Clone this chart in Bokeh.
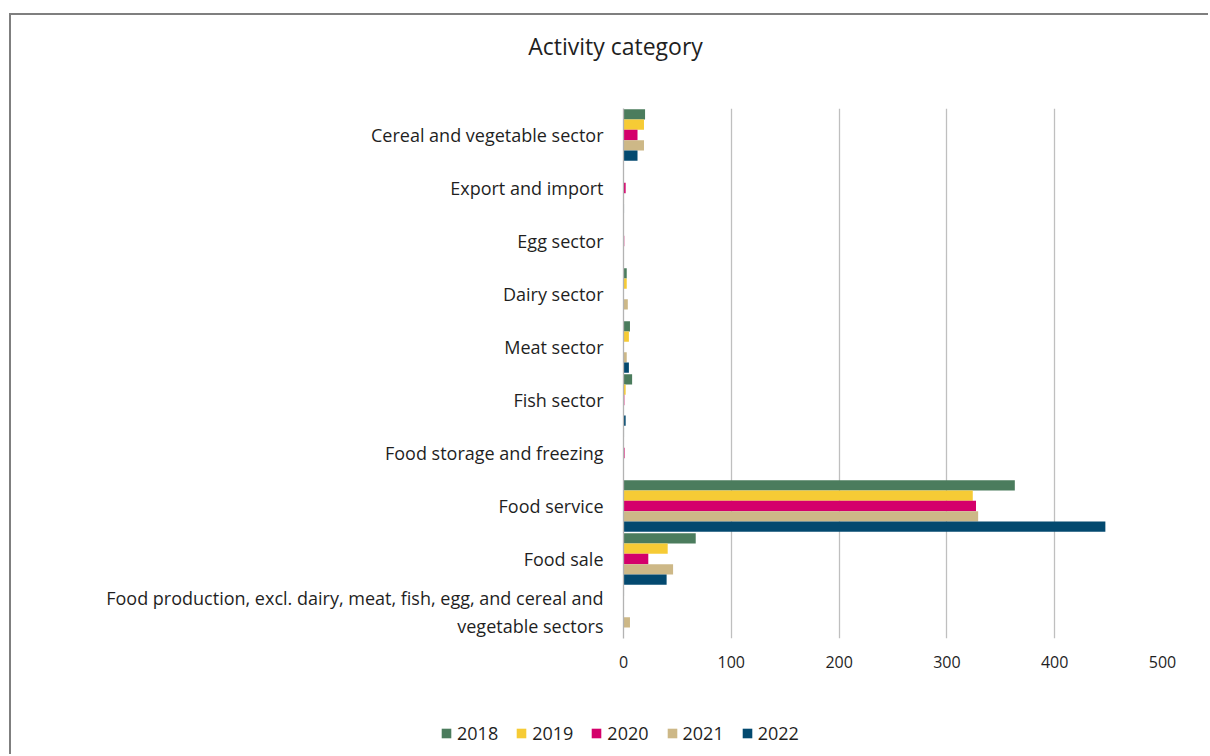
from bokeh.plotting import figure
from bokeh.layouts import column
from bokeh.models import FactorRange, Range1d, Legend, LegendItem, FixedTicker, ColumnDataSource, Label
from bokeh.transform import dodge
from bokeh.embed import file_html
from bokeh.resources import INLINE

categories = [
    "Cereal and vegetable sector",
    "Export and import",
    "Egg sector",
    "Dairy sector",
    "Meat sector",
    "Fish sector",
    "Food storage and freezing",
    "Food service",
    "Food sale",
    "Food production, excl. dairy, meat, fish, egg, and cereal and\nvegetable sectors",
]
years = ["2018", "2019", "2020", "2021", "2022"]
v2018 = [20, 0, 0, 3, 6, 8, 0.5, 363, 67, 0.5]
v2019 = [19, 0, 0, 3, 5, 2, 0, 324, 41, 0]
v2020 = [13, 2, 0.7, 0, 0, 0.8, 1, 327, 23, 0]
v2021 = [19, 0.5, 0, 4, 3, 0, 0, 329, 46, 6]
v2022 = [13, 0.5, 0, 0, 5, 2, 0, 447, 40, 0.3]
x_ticks = [0, 100, 200, 300, 400, 500]
title_text = "Activity category"

colors = ["#4b7c5d", "#f6cb35", "#d4006b", "#cdb887", "#03496f"]
series = [v2018, v2019, v2020, v2021, v2022]

source = ColumnDataSource(dict(cat=categories, **{"v" + y: s for y, s in zip(years, series)}))

FONT = "Open Sans"
TXT = "#1f1f1f"
W = 1199

# title strip
t = figure(width=W, height=60, output_backend="svg", toolbar_location=None,
           x_axis_type=None, y_axis_type=None, min_border=0, title=None)
t.frame_align = False
t.outline_line_color = None
t.border_fill_color = "white"
t.background_fill_color = "white"
t.add_layout(Label(x=604, y=30, x_units="screen", y_units="screen", text=title_text,
                   text_align="center", text_baseline="middle", text_font=FONT,
                   text_font_size="23px", text_color=TXT))

# main chart
p = figure(
    width=W, height=631,
    y_range=FactorRange(factors=list(reversed(categories))),
    x_range=Range1d(0, 500),
    output_backend="svg", toolbar_location=None, title=None,
    min_border_left=612, min_border_right=48, min_border_top=33, min_border_bottom=68,
)
p.frame_align = False
p.outline_line_color = None
p.background_fill_color = "white"
p.border_fill_color = "white"

offsets = [0.388, 0.194, 0.0, -0.194, -0.388]
for y, c, off in zip(years, colors, offsets):
    p.hbar(y=dodge("cat", off, range=p.y_range), right="v" + y, left=0, height=0.194,
           source=source, fill_color=c, line_color=None)

p.ygrid.grid_line_color = None
p.xgrid.grid_line_color = "#bfbfbf"
p.xgrid.grid_line_width = 1.3

p.xaxis.ticker = FixedTicker(ticks=x_ticks)
p.xaxis.axis_line_color = None
p.xaxis.major_tick_line_color = None
p.xaxis.minor_tick_line_color = None
p.xaxis.major_tick_out = 0
p.xaxis.major_label_standoff = 17
p.xaxis.major_label_text_font = FONT
p.xaxis.major_label_text_font_size = "16px"
p.xaxis.major_label_text_color = TXT

p.yaxis.axis_line_color = "#b3b3b3"
p.yaxis.axis_line_width = 1.3
p.yaxis.major_tick_line_color = None
p.yaxis.major_tick_out = 0
p.yaxis.major_label_standoff = 20
p.yaxis.major_label_text_font = FONT
p.yaxis.major_label_text_font_size = "18px"
p.yaxis.major_label_text_color = TXT

# legend strip below the chart (its bars lie outside the strip's view; only the legend shows)
q = figure(width=W, height=50, output_backend="svg", toolbar_location=None,
           x_axis_type=None, y_axis_type=None, min_border=0, title=None,
           x_range=Range1d(-2, -1), y_range=Range1d(-2, -1))
q.frame_align = False
q.outline_line_color = None
q.border_fill_color = "white"
q.background_fill_color = "white"
legend_renderers = []
for y, c in zip(years, colors):
    legend_renderers.append(q.hbar(y=0, right="v" + y, left=0, height=0.1, source=source,
                                   fill_color=c, line_color=None))

legend = Legend(
    items=[LegendItem(label=y, renderers=[r]) for y, r in zip(years, legend_renderers)],
    orientation="horizontal", location=(429, 11),
    border_line_color=None, background_fill_alpha=0,
    glyph_width=12, glyph_height=12, label_standoff=5, spacing=17,
    padding=0, margin=0,
    label_text_font=FONT, label_text_font_size="18px", label_text_color=TXT,
)
q.add_layout(legend, "center")

layout = column(t, p, q, spacing=0, margin=(15, 0, 0, 11))
layout.styles = {"box-shadow": "-2px -2px 0 0 #7f7f7f"}

open("out.html", "w").write(file_html(layout, INLINE))
